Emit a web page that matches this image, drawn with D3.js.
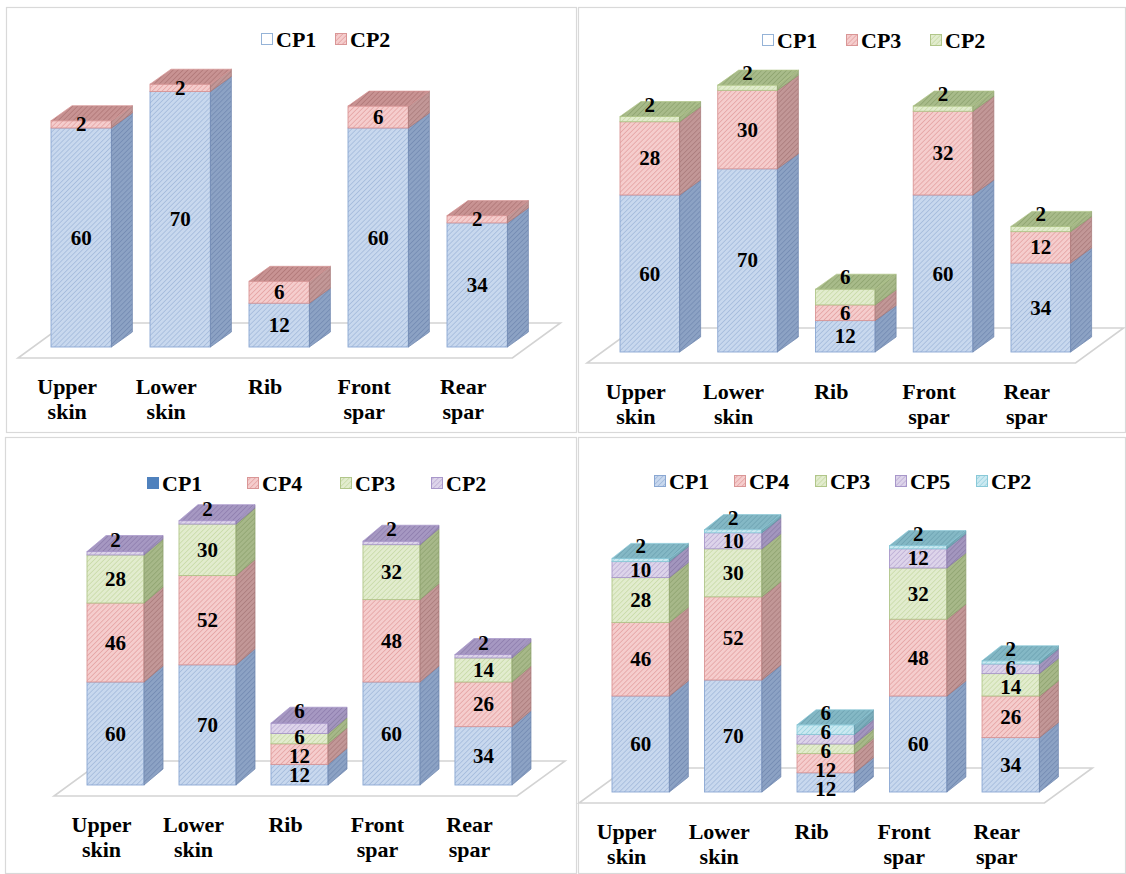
<!DOCTYPE html>
<html>
<head>
<meta charset="utf-8">
<script src="https://cdn.jsdelivr.net/npm/d3@7"></script>
<style>
  body { margin: 0; background: #fff; }
  svg { display: block; }
  text { font-family: "Liberation Serif", "Times New Roman", "DejaVu Serif", serif; font-weight: bold; }
</style>
</head>
<body>
<svg id="chart" width="1126" height="874"></svg>
<script>
// Structural components shared by every panel
const categories = ["Upper skin", "Lower skin", "Rib", "Front spar", "Rear spar"];

// Panel A: two check points
const seriesA = ["CP1", "CP2"];
const a_CP1 = [60, 70, 12, 60, 34];
const a_CP2 = [2, 2, 6, 6, 2];

// Panel B: three check points
const seriesB = ["CP1", "CP3", "CP2"];
const b_CP1 = [60, 70, 12, 60, 34];
const b_CP3 = [28, 30, 6, 32, 12];
const b_CP2 = [2, 2, 6, 2, 2];

// Panel C: four check points
const seriesC = ["CP1", "CP4", "CP3", "CP2"];
const c_CP1 = [60, 70, 12, 60, 34];
const c_CP4 = [46, 52, 12, 48, 26];
const c_CP3 = [28, 30, 6, 32, 14];
const c_CP2 = [2, 2, 6, 2, 2];

// Panel D: five check points
const seriesD = ["CP1", "CP4", "CP3", "CP5", "CP2"];
const d_CP1 = [60, 70, 12, 60, 34];
const d_CP4 = [46, 52, 12, 48, 26];
const d_CP3 = [28, 30, 6, 32, 14];
const d_CP5 = [10, 10, 6, 12, 6];
const d_CP2 = [2, 2, 6, 2, 2];

// Fill styles by stack level (bottom to top)
const palette = [
  { bg: "#c8d8ee", line: "#98b1d6", side: "#8ca2c4", sideLine: "#6b84ad", top: "#a6badb", topLine: "#829bc4", edge: "#8aa7d2" },
  { bg: "#f5cdcd", line: "#df9696", side: "#c29797", sideLine: "#a47474", top: "#c89393", topLine: "#a86e6e", edge: "#d99696" },
  { bg: "#e2ecce", line: "#c1d59b", side: "#a7b889", sideLine: "#899e69", top: "#a8bb8a", topLine: "#879d67", edge: "#b1c68a" },
  { bg: "#ddd4ea", line: "#b3a2ce", side: "#a396be", sideLine: "#8576a3", top: "#a698c2", topLine: "#8777a8", edge: "#a897ca" },
  { bg: "#cbe9f1", line: "#8ecddc", side: "#7dafbd", sideLine: "#5c93a3", top: "#84b8c5", topLine: "#669dad", edge: "#89c9d8" }
];

const panels = [
  { box: [6, 7, 571, 426], series: seriesA, values: [a_CP1, a_CP2],
    yMax: 80, base: 347, top: 55, xRange: [51, 507.4], pad: 0.39, dx: 21, dy: -15,
    legendX: [261, 335], legendBase: 47, swatch: ["outline", "hatch"], raiseTop: false },
  { box: [578, 7, 548, 426], series: seriesB, values: [b_CP1, b_CP3, b_CP2],
    yMax: 120, base: 352, top: 38, xRange: [620, 1070.6], pad: 0.39, dx: 21, dy: -15,
    legendX: [762, 846, 930], legendBase: 48, swatch: ["outline", "hatch", "hatch"], raiseTop: true },
  { box: [5, 437, 572, 437], series: seriesC, values: [c_CP1, c_CP4, c_CP3, c_CP2],
    yMax: 180, base: 785, top: 476, xRange: [87, 512], pad: 0.38, dx: 19, dy: -16,
    legendX: [147, 247, 340, 431], legendBase: 491, swatch: ["solid", "hatch", "hatch", "hatch"], raiseTop: true },
  { box: [578, 437, 548, 437], series: seriesD, values: [d_CP1, d_CP4, d_CP3, d_CP5, d_CP2],
    yMax: 200, base: 792, top: 472, xRange: [612, 1039.4], pad: 0.38, dx: 19, dy: -15,
    legendX: [654, 734, 815, 895, 976], legendBase: 489, swatch: ["hatch", "hatch", "hatch", "hatch", "hatch"], raiseTop: true }
];

const svg = d3.select("#chart");
const defs = svg.append("defs");

function hatch(id, bg, line, size, width) {
  const p = defs.append("pattern")
    .attr("id", id)
    .attr("patternUnits", "userSpaceOnUse")
    .attr("width", size).attr("height", size)
    .attr("patternTransform", "rotate(45)");
  p.append("rect").attr("width", size).attr("height", size).attr("fill", bg);
  p.append("line").attr("x1", 0).attr("y1", 0).attr("x2", 0).attr("y2", size)
    .attr("stroke", line).attr("stroke-width", width);
}
palette.forEach((c, k) => {
  hatch(`front-${k}`, c.bg, c.line, 3.5, 1.2);
  hatch(`side-${k}`, c.side, c.sideLine, 3.5, 1.2);
  hatch(`top-${k}`, c.top, c.topLine, 3.5, 1.2);
});

const pts = arr => arr.map(d => d.join(",")).join(" ");

panels.forEach((p) => {
  const g = svg.append("g");
  const [bx, by, bw, bh] = p.box;
  g.append("rect")
    .attr("x", bx + 0.5).attr("y", by + 0.5)
    .attr("width", bw - 1).attr("height", bh - 1)
    .attr("fill", "#fff").attr("stroke", "#d9d9d9").attr("stroke-width", 1.2);

  const x = d3.scaleBand().domain(categories).range(p.xRange)
    .paddingInner(p.pad).paddingOuter(0);
  const y = d3.scaleLinear().domain([0, p.yMax]).range([p.base, p.top]);
  const band = x.bandwidth();

  const rows = categories.map((c, i) => {
    const o = { cat: c };
    p.series.forEach((s, k) => { o[s] = p.values[k][i]; });
    return o;
  });
  const layers = d3.stack().keys(p.series)(rows);

  // floor plane under the bars
  const first = x(categories[0]);
  const last = x(categories[categories.length - 1]) + band;
  const fy = p.base + 11, backY = p.base - 24, shift = 48;
  const fl = first - 33, fr = last + 5;
  g.append("polygon")
    .attr("points", pts([[fl, fy], [fr, fy], [fr + shift, backY], [fl + shift, backY]]))
    .attr("fill", "#fff").attr("stroke", "#d3d3d3").attr("stroke-width", 1.6);

  const labels = [];

  categories.forEach((cat, i) => {
    const x0 = x(cat);
    const bar = g.append("g");
    const barLabels = [];
    layers.forEach((layer, k) => {
      const [v0, v1] = layer[i];
      const yb = y(v0), yt = y(v1);
      const c = palette[k];
      bar.append("rect")
        .attr("x", x0).attr("y", yt).attr("width", band).attr("height", yb - yt)
        .attr("fill", `url(#front-${k})`).attr("stroke", c.edge).attr("stroke-width", 0.9);
      bar.append("polygon")
        .attr("points", pts([[x0 + band, yb], [x0 + band + p.dx, yb + p.dy], [x0 + band + p.dx, yt + p.dy], [x0 + band, yt]]))
        .attr("fill", `url(#side-${k})`).attr("stroke", c.sideLine).attr("stroke-width", 0.7);
      const isTop = k === layers.length - 1;
      if (isTop) {
        bar.append("polygon")
          .attr("points", pts([[x0, yt], [x0 + p.dx, yt + p.dy], [x0 + band + p.dx, yt + p.dy], [x0 + band, yt]]))
          .attr("fill", `url(#top-${k})`).attr("stroke", c.edge).attr("stroke-width", 0.7);
      }
      const raised = p.raiseTop && isTop && (yb - yt) < 18;
      barLabels.push({
        text: String(v1 - v0),
        x: x0 + band / 2,
        y: raised ? yt - 12 : (yb + yt) / 2,
        fixed: raised
      });
    });
    // spread labels of one stack so they stay readable
    const gap = 19;
    for (let it = 0; it < 80; it++) {
      for (let j = 0; j < barLabels.length - 1; j++) {
        const a = barLabels[j], b = barLabels[j + 1];
        const d = a.y - b.y;
        if (d < gap) {
          const o = gap - d;
          if (b.fixed) a.y += o;
          else if (a.fixed) b.y -= o;
          else { a.y += o / 2; b.y -= o / 2; }
        }
      }
    }
    labels.push(...barLabels);

    // category label, one word per line
    const cx = x0 + band / 2 - 14;
    const t = g.append("text")
      .attr("x", cx).attr("y", p.base + 47)
      .attr("text-anchor", "middle")
      .attr("font-size", 22).attr("fill", "#000");
    cat.split(" ").forEach((w, wi) => {
      t.append("tspan").attr("x", cx).attr("dy", wi === 0 ? 0 : 24.5).text(w);
    });
  });

  g.selectAll("text.value").data(labels).join("text")
    .attr("class", "value")
    .attr("x", d => d.x).attr("y", d => d.y + 7)
    .attr("text-anchor", "middle")
    .attr("font-size", 21).attr("fill", "#000")
    .text(d => d.text);

  // legend
  p.series.forEach((s, k) => {
    const lx = p.legendX[k];
    const sw = g.append("rect")
      .attr("x", lx + 0.5).attr("y", p.legendBase - 13.5)
      .attr("width", 11).attr("height", 11);
    if (p.swatch[k] === "outline") sw.attr("fill", "#fff").attr("stroke", "#95b3d7").attr("stroke-width", 1);
    else if (p.swatch[k] === "solid") sw.attr("fill", "#4f81bd").attr("stroke", "#4f81bd").attr("stroke-width", 1);
    else sw.attr("fill", `url(#front-${k})`).attr("stroke", palette[k].edge).attr("stroke-width", 1);
    g.append("text")
      .attr("x", lx + 15).attr("y", p.legendBase)
      .attr("font-size", 22).attr("fill", "#000")
      .text(s);
  });
});
</script>
</body>
</html>
